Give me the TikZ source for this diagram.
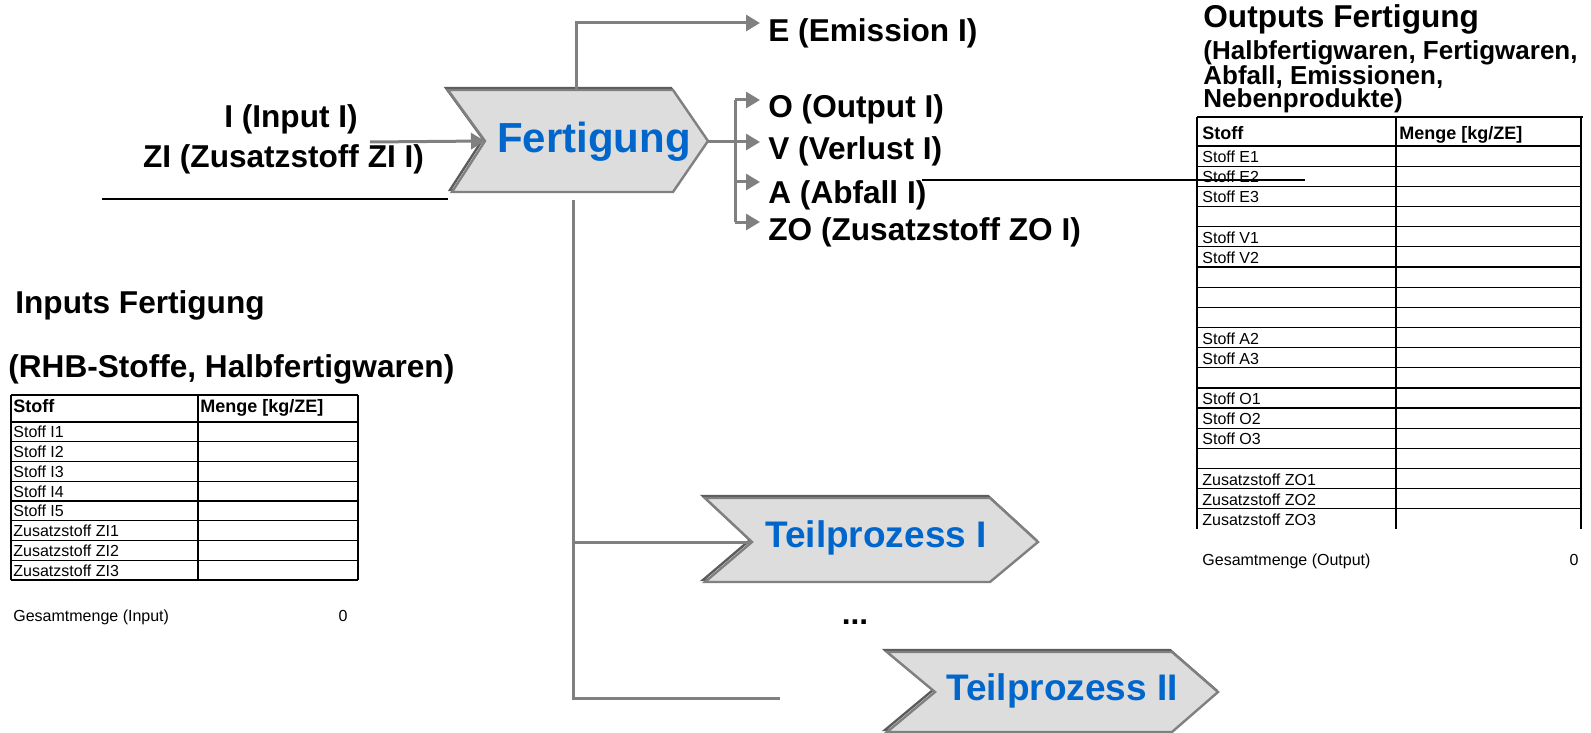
\documentclass[tikz,border=0pt]{standalone}
\usepackage{fontspec}
\setmainfont{Liberation Sans}
\usetikzlibrary{arrows.meta}

\definecolor{procgray}{HTML}{DDDDDD}
\definecolor{linegray}{HTML}{808080}
\definecolor{shadegray}{HTML}{5C5C5C}
\definecolor{procblue}{HTML}{0066CC}

\tikzset{
  flowline/.style={linegray,line width=1.5pt},
  flow/.style={flowline,-{Triangle[length=7pt,width=8pt]}},
  chev/.style={fill=procgray,draw=linegray,line width=1.2pt,line join=miter},
  chevshade/.style={draw=shadegray,line width=1.2pt,line join=miter},
  rule/.style={black,line width=1pt},
  lbl/.style={font=\bfseries\fontsize{15.8}{19}\selectfont,inner sep=0pt,anchor=base west},
  sublbl/.style={font=\bfseries\fontsize{13}{15}\selectfont,inner sep=0pt,anchor=base west},
  proclbl/.style={text=procblue,inner sep=0pt,anchor=base},
  cell/.style={font=\fontsize{8}{9.5}\selectfont,inner sep=0pt,anchor=base west},
  headcell/.style={font=\bfseries\fontsize{9}{10.5}\selectfont,inner sep=0pt,anchor=base west},
  tabframe/.style={black,line width=1.2pt},
  rowline/.style={black,line width=0.6pt}
}

\begin{document}
\begin{tikzpicture}[x=0.5pt,y=-0.5pt,line cap=butt]
\useasboundingbox (0,0) rectangle (1591,733);

% process shapes
\draw[chevshade,xshift=-1pt,yshift=1pt] (448,90) -- (673,90) -- (708,141) -- (673,192) -- (452,192) -- (485,141) -- cycle;
\draw[chev] (448,90) -- (673,90) -- (708,141) -- (673,192) -- (452,192) -- (485,141) -- cycle;
\node[proclbl,font=\bfseries\fontsize{21}{25}\selectfont] (fert) at (594,153) {Fertigung};

\draw[chevshade,xshift=-1pt,yshift=1pt] (705,498) -- (990,498) -- (1038,542) -- (990,582) -- (705,582) -- (752,542) -- cycle;
\draw[chev] (705,498) -- (990,498) -- (1038,542) -- (990,582) -- (705,582) -- (752,542) -- cycle;
\node[proclbl,font=\bfseries\fontsize{18.5}{22}\selectfont] (tp1) at (876,547) {Teilprozess I};

\draw[chevshade,xshift=-1pt,yshift=1pt] (887,652) -- (1172,652) -- (1218,692) -- (1172,732) -- (887,732) -- (935,692) -- cycle;
\draw[chev] (887,652) -- (1172,652) -- (1218,692) -- (1172,732) -- (887,732) -- (935,692) -- cycle;
\node[proclbl,font=\bfseries\fontsize{18.5}{22}\selectfont] (tp2) at (1062,700) {Teilprozess II};

\node[font=\bfseries\fontsize{15.8}{19}\selectfont,inner sep=0pt,anchor=base] (dots) at (855,624) {...};

% key points
\coordinate (fNotch) at (485,141);
\coordinate (fTip) at (708,142);
\coordinate (fTop) at (576,90);
\coordinate (fBot) at (573,200);
\coordinate (inStart) at (370,142);
\coordinate (bar) at (735,142);
\coordinate (tipE) at (760,23);
\coordinate (tipO) at (760,100);
\coordinate (tipV) at (760,142);
\coordinate (tipA) at (760,182);
\coordinate (tipZO) at (760,222);
\coordinate (tp1Notch) at (752,542);
\coordinate (subEnd) at (780,698);

% inputs
\node[lbl,anchor=base] (inI) at (291,127) {I (Input I)};
\node[lbl,anchor=base] (inZI) at (283.5,168) {ZI (Zusatzstoff ZI I)};
\draw[flow] (inStart) -- (fNotch);
\coordinate (inRuleL) at (102,199);
\coordinate (inRuleR) at (448,199);
\draw[rule] (inRuleL) -- (inRuleR);

% outputs
\draw[flow] (fTop) |- (tipE);
\draw[flowline] (tipO -| bar) -- (tipZO -| bar);
\draw[flow] (fTip) -- (tipV);
\foreach \t in {tipO,tipA,tipZO}
  \draw[flow] (\t -| bar) -- (\t);

\node[lbl] (outE) at (768,42) {E (Emission I)};
\node[lbl] (outO) at (768,118) {O (Output I)};
\node[lbl] (outV) at (768,160) {V (Verlust I)};
\node[lbl] (outA) at (768,204) {A (Abfall I)};
\node[lbl] (outZO) at (768,241) {ZO (Zusatzstoff ZO I)};

\coordinate (aRuleL) at (922,180);
\coordinate (aRuleR) at (1305,180);
\draw[rule] (aRuleL) -- (aRuleR);

% sub processes
\draw[flowline] (fBot) |- (subEnd);
\draw[flowline] (fBot |- tp1Notch) -- (tp1Notch);

% input table
\node[lbl] (inTitle) at (15,313) {Inputs Fertigung};
\node[lbl] (inSub) at (8,377) {(RHB-Stoffe, Halbfertigwaren)};

\draw[tabframe] (11,395) -- (358,395);
\foreach \x in {11,198,358}
  \draw[tabframe] (\x,395) -- (\x,580);
\foreach \i in {0,...,7}
  \draw[rowline] (11,{422+\i*19.75}) -- (358,{422+\i*19.75});
\draw[tabframe] (11,580) -- (358,580);

\node[headcell] (inHeadA) at (13,412) {Stoff};
\node[headcell] (inHeadB) at (200,412) {Menge [kg/ZE]};
\foreach \r/\t in {1/Stoff I1,2/Stoff I2,3/Stoff I3,4/Stoff I4,5/Stoff I5,6/Zusatzstoff ZI1,7/Zusatzstoff ZI2,8/Zusatzstoff ZI3}
  \node[cell] (in-\r) at (13,{422+\r*19.75-4}) {\t};

\node[cell] (inSum) at (13,621) {Gesamtmenge (Input)};
\node[cell,anchor=base] (inSumVal) at (343,621) {0};

% output table
\node[lbl] (outTitle) at (1203,28) {Outputs Fertigung};
\node[sublbl] (outSub1) at (1203,60) {(Halbfertigwaren, Fertigwaren,};
\node[sublbl] (outSub2) at (1203,85) {Abfall, Emissionen,};
\node[sublbl] (outSub3) at (1203,108) {Nebenprodukte)};

\draw[tabframe] (1197,117) -- (1583,117);
\foreach \x in {1197,1396,1581}
  \draw[tabframe] (\x,117) -- (\x,529);
\foreach \i in {0,...,18}
  \draw[rowline] (1197,{146+\i*20.16}) -- (1581,{146+\i*20.16});

\node[headcell] (outHeadA) at (1202,140) {Stoff};
\node[headcell] (outHeadB) at (1399,140) {Menge [kg/ZE]};
\foreach \r/\t in {1/Stoff E1,2/Stoff E2,3/Stoff E3,5/Stoff V1,6/Stoff V2,10/Stoff A2,11/Stoff A3,13/Stoff O1,14/Stoff O2,15/Stoff O3,17/Zusatzstoff ZO1,18/Zusatzstoff ZO2,19/Zusatzstoff ZO3}
  \node[cell] (out-\r) at (1202,{146+\r*20.16-3.5}) {\t};

\node[cell] (outSum) at (1202,565) {Gesamtmenge (Output)};
\node[cell,anchor=base] (outSumVal) at (1574,565) {0};

\end{tikzpicture}
\end{document}
